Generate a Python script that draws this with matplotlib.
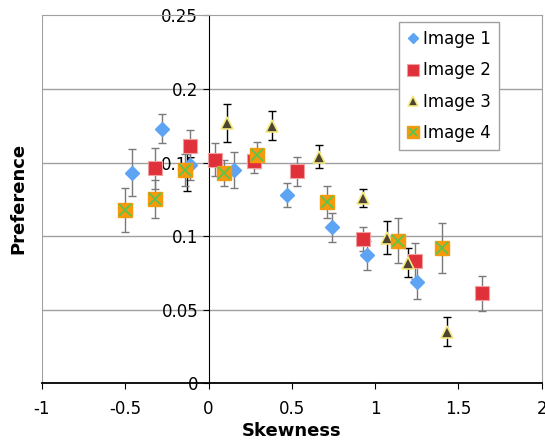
import matplotlib
matplotlib.use("Agg")
import matplotlib.pyplot as plt
from matplotlib.legend_handler import HandlerTuple
from matplotlib.ticker import FormatStrFormatter

# skewness (x), preference (y), error (half-width) for each image
img1_x = [-0.46, -0.28, -0.11, 0.15, 0.47, 0.74, 0.95, 1.25]
img1_y = [0.143, 0.173, 0.148, 0.145, 0.128, 0.106, 0.087, 0.069]
img1_e = [0.016, 0.010, 0.010, 0.012, 0.008, 0.010, 0.010, 0.012]

img2_x = [-0.32, -0.11, 0.04, 0.27, 0.53, 0.93, 1.24, 1.64]
img2_y = [0.146, 0.161, 0.152, 0.151, 0.144, 0.098, 0.083, 0.061]
img2_e = [0.014, 0.011, 0.011, 0.008, 0.010, 0.008, 0.012, 0.012]

img3_x = [-0.13, 0.11, 0.38, 0.66, 0.93, 1.07, 1.20, 1.43]
img3_y = [0.145, 0.177, 0.175, 0.154, 0.126, 0.099, 0.082, 0.035]
img3_e = [0.014, 0.013, 0.010, 0.008, 0.006, 0.011, 0.010, 0.010]

img4_x = [-0.50, -0.32, -0.14, 0.09, 0.29, 0.71, 1.14, 1.40]
img4_y = [0.118, 0.125, 0.145, 0.143, 0.155, 0.123, 0.097, 0.092]
img4_e = [0.015, 0.013, 0.011, 0.009, 0.009, 0.011, 0.015, 0.017]

x_ticks = [-1, -0.5, 0, 0.5, 1, 1.5, 2]
y_ticks = [0, 0.05, 0.1, 0.15, 0.2, 0.25]

grey = "#7a7a7a"

fig = plt.figure(figsize=(5.45, 4.41), dpi=100)
ax = fig.add_axes([0.077, 0.131, 0.917, 0.834])

ax.set_xlim(-1, 2)
ax.set_ylim(0, 0.25)

for y in y_ticks[1:-1]:
    ax.axhline(y, color="#a0a0a0", lw=1, zorder=0)

err_kw = dict(fmt="none", capsize=3, elinewidth=1, capthick=1, zorder=2)
ax.errorbar(img1_x, img1_y, yerr=img1_e, ecolor=grey, **err_kw)
h1, = ax.plot(img1_x, img1_y, "D", ms=7, color="#5ea4f5", mec="#5ea4f5",
              ls="none", zorder=3)

ax.errorbar(img2_x, img2_y, yerr=img2_e, ecolor=grey, **err_kw)
h2, = ax.plot(img2_x, img2_y, "s", ms=10, color="#e0303a", mec="#f0a0a0",
              mew=0.8, ls="none", zorder=4)

ax.errorbar(img3_x, img3_y, yerr=img3_e, ecolor="black", **err_kw)
h3, = ax.plot(img3_x, img3_y, "^", ms=9, color="#4a4430", mec="#f5e880",
              mew=1.2, ls="none", zorder=5)

ax.errorbar(img4_x, img4_y, yerr=img4_e, ecolor=grey, **err_kw)
h4a, = ax.plot(img4_x, img4_y, "s", ms=10, color="#f59a0c", mec="#f59a0c",
               ls="none", zorder=6)
h4b, = ax.plot(img4_x, img4_y, "x", ms=8, color="#50c850", mew=1.2,
               ls="none", zorder=7)

# Excel style: value axis crosses at x = 0, grey plot-area border
ax.spines["left"].set_position(("data", 0))
ax.spines["left"].set_color("black")
ax.spines["bottom"].set_color("black")
ax.spines["bottom"].set_linewidth(1.3)
ax.spines["top"].set_color("#a0a0a0")
ax.spines["right"].set_color("#a0a0a0")
ax.axvline(-1, color="#a0a0a0", lw=1.5, zorder=0)

ax.set_xticks(x_ticks)
ax.set_yticks(y_ticks)
ax.xaxis.set_major_formatter(FormatStrFormatter("%g"))
ax.yaxis.set_major_formatter(FormatStrFormatter("%g"))
ax.tick_params(axis="both", labelsize=12, direction="out", length=4,
               color="black")
ax.tick_params(axis="x", pad=8)

fig.text(0.033, 0.55, "Preference", rotation=90, ha="center", va="center",
         fontsize=13, fontweight="bold")
fig.text(0.535, 0.022, "Skewness", ha="center", va="center",
         fontsize=13, fontweight="bold")

leg = ax.legend([h1, h2, h3, (h4a, h4b)],
                ["Image 1", "Image 2", "Image 3", "Image 4"],
                handler_map={tuple: HandlerTuple(ndivide=1, pad=0)},
                loc="upper left", bbox_to_anchor=(0.714, 0.983),
                borderaxespad=0, fontsize=12, fancybox=False,
                framealpha=1, edgecolor="#a0a0a0", handlelength=0.7,
                handletextpad=0.25, labelspacing=0.8, markerscale=0.8,
                borderpad=0.5)
leg.get_frame().set_linewidth(1)

fig.savefig("out.png", dpi=100)
